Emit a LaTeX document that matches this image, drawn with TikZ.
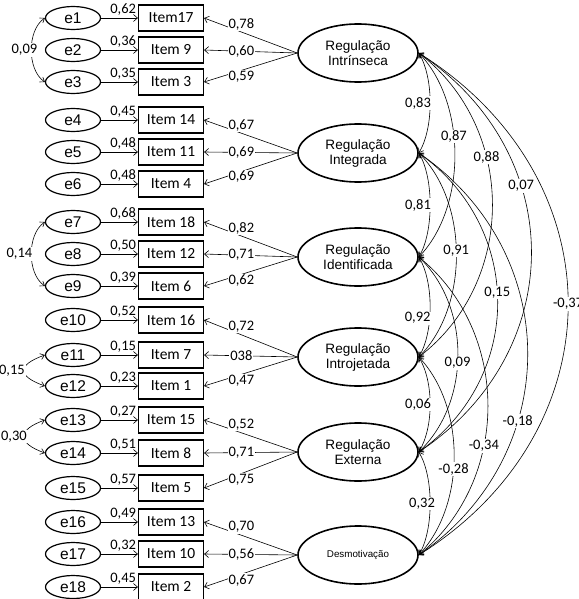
\documentclass[tikz,border=0pt]{standalone}
\usepackage{fontspec}
\setmainfont{Carlito}
\newfontfamily\arialfont{Liberation Sans}
\usetikzlibrary{arrows,arrows.meta,calc,shapes.geometric}
\tikzset{
	erro/.style={draw, ellipse, line width=1.2pt, minimum width=55pt, minimum height=23pt,
			inner sep=0pt, font=\arialfont\fontsize{15.5}{15.5}\selectfont},
	itembox/.style={draw, rectangle, line width=1.2pt, minimum width=65pt, minimum height=26pt,
			inner sep=0pt, font=\fontsize{15.5}{15.5}\selectfont},
	fator/.style={draw, ellipse, line width=1.6pt, minimum width=120pt, minimum height=58pt,
			inner sep=0pt, align=center, font=\arialfont\fontsize{13.6}{15}\selectfont},
	peso/.style={font=\fontsize{14.5}{14.5}\selectfont, inner sep=1pt},
	seta/.style={-{Straight Barb[length=4pt,width=7pt]}, line width=0.6pt},
	cov/.style={{Straight Barb[length=4pt,width=6pt]}-{Straight Barb[length=4pt,width=6pt]}, line width=0.6pt}
}

\begin{document}
\begin{tikzpicture}[x=1pt, y=-1pt]
	\useasboundingbox (0,0) rectangle (578,599);

	% Error terms and observed items
	\foreach \n/\y/\txt/\w in {
			1/18/{Item17}/{0,62}, 2/50/{Item 9}/{0,36}, 3/82/{Item 3}/{0,35},
			4/120/{Item 14}/{0,45}, 5/152/{Item 11}/{0,48}, 6/184/{Item 4}/{0,48},
			7/222/{Item 18}/{0,68}, 8/254/{Item 12}/{0,50}, 9/286/{Item 6}/{0,39},
			10/320/{Item 16}/{0,52}, 11/355/{Item 7}/{0,15}, 12/386/{Item 1}/{0,23},
			13/420/{Item 15}/{0,27}, 14/453/{Item 8}/{0,51}, 15/488/{Item 5}/{0,57},
			16/522/{Item 13}/{0,49}, 17/554/{Item 10}/{0,32}, 18/587/{Item 2}/{0,45}} {
			\node[erro] (e\n) at (73,\y) {e\n};
			\node[itembox] (i\n) at (171,\y) {\txt};
			\draw[seta] (e\n) -- node[peso, above=1pt, pos=.6] {\w} (i\n);
		}

	% Latent factors
	\node[fator] (f1) at (358,53) {Regulação\\Intrínseca};
	\node[fator] (f2) at (358,153) {Regulação\\Integrada};
	\node[fator] (f3) at (358,257) {Regulação\\Identificada};
	\node[fator] (f4) at (358,357) {Regulação\\Introjetada};
	\node[fator] (f5) at (358,452) {Regulação\\Externa};
	\node[fator, font=\arialfont\fontsize{9.8}{11}\selectfont] (f6) at (358,555) {Desmotivação};

	% Factor loadings
	\foreach \f/\r/\s/\w in {
			1/1/8/{0,78}, 1/2/0/{0,60}, 1/3/-6/{0,59},
			2/4/8/{0,67}, 2/5/0/{0,69}, 2/6/-5/{0,69},
			3/7/8/{0,82}, 3/8/0/{0,71}, 3/9/-6/{0,62},
			4/10/8/{0,72}, 4/11/0/{038}, 4/12/-6/{0,47},
			5/13/8/{0,52}, 5/14/0/{0,71}, 5/15/-6/{0,75},
			6/16/8/{0,70}, 6/17/0/{0,56}, 6/18/-6/{0,67}} {
			\draw[seta] (f\f.west) -- node[peso, fill=white, pos=.6, yshift=\s] {\w} (i\r.east);
		}

	% Correlations between factors
	\foreach \a/\b/\k/\t/\xs/\w in {
			1/2/15/.5/-12/{0,83}, 1/3/48/.42/0/{0,87}, 1/4/98/.36/0/{0,88},
			1/5/150/.35/0/{0,07}, 1/6/199/.5/0/{-0,37},
			2/3/15/.5/-12/{0,81}, 2/4/50/.48/0/{0,91}, 2/5/105/.47/0/{0,15},
			2/6/145/.65/0/{-0,18},
			3/4/15/.6/-12/{0,92}, 3/5/52/.54/0/{0,09}, 3/6/92/.62/0/{-0,34},
			4/5/15/.5/-12/{0,06}, 4/6/47/.56/0/{-0,28},
			5/6/15/.5/-8/{0,32}} {
			\pgfmathsetmacro{\dy}{25*(\b-\a)}
			\draw[cov] (f\a.east) .. controls +(\k,\dy) and +(\k,-\dy) ..
				node[peso, fill=white, pos=\t, xshift=\xs] {\w} (f\b.east);
		}

	% Correlated errors
	\draw[cov] (e1.west) .. controls +(-18,12) and +(-18,-12) ..
		node[peso, fill=white, xshift=-7] {0,09} (e3.west);
	\draw[cov] (e7.west) .. controls +(-18,12) and +(-18,-12) ..
		node[peso, fill=white, xshift=-12] {0,14} (e9.west);
	\draw[cov] (e11.west) .. controls +(-28,10) and +(-28,-10) ..
		node[peso, fill=white, xshift=-12] {0,15} (e12.west);
	\draw[cov] (e13.west) .. controls +(-28,10) and +(-28,-10) ..
		node[peso, fill=white, xshift=-10] {0,30} (e14.west);
\end{tikzpicture}
\end{document}
